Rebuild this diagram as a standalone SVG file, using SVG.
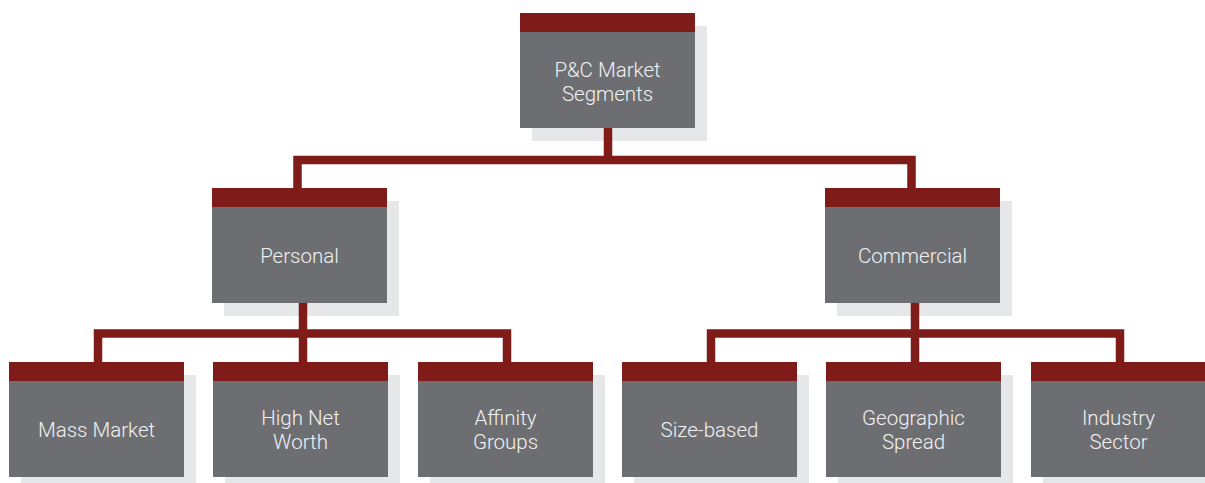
<svg xmlns="http://www.w3.org/2000/svg" width="1205" height="483" viewBox="0 0 1205 483">
  <defs>
    <style>
      .shadow { fill: #e6e7e8; }
      .head { fill: #7f1b18; }
      .body { fill: #6d6e72; }
      .label { font-family: Roboto, "Liberation Sans", sans-serif; font-weight: 300; font-size: 20.5px; fill: #f1f1f1; text-anchor: middle; }
      .link { fill: none; stroke: #7f1b18; stroke-width: 8.5; stroke-linejoin: miter; stroke-linecap: butt; }
    </style>
  </defs>
  <rect width="1205" height="483" fill="#ffffff"/>

  <!-- drop shadows go first so the connectors sit over them -->
  <g id="node-shadows">
    <rect class="shadow" x="532" y="26" width="175" height="115"/>
    <rect class="shadow" x="224" y="201" width="175" height="115"/>
    <rect class="shadow" x="837" y="201" width="175" height="115"/>
    <rect class="shadow" x="21" y="375" width="175" height="115"/>
    <rect class="shadow" x="225" y="375" width="175" height="115"/>
    <rect class="shadow" x="430" y="375" width="175" height="115"/>
    <rect class="shadow" x="634" y="375" width="175" height="115"/>
    <rect class="shadow" x="838" y="375" width="175" height="115"/>
    <rect class="shadow" x="1043" y="375" width="175" height="115"/>
  </g>

  <g id="connectors">
    <path class="link" d="M608,128 V160"/>
    <path class="link" d="M297.5,190 V160 H911.5 V190"/>
    <path class="link" d="M303,303 V333.5"/>
    <path class="link" d="M98,364 V333.5 H507 V364 M303,333.5 V364"/>
    <path class="link" d="M915,303 V333.5"/>
    <path class="link" d="M711,364 V333.5 H1120 V364 M915,333.5 V364"/>
  </g>

  <g id="node-pc-market-segments">
    <rect class="body" x="520" y="32" width="175" height="96"/>
    <rect class="head" x="520" y="13" width="175" height="19"/>
    <text class="label" x="607.5" y="77">P&amp;C Market</text>
    <text class="label" x="607.5" y="101">Segments</text>
  </g>

  <g id="node-personal">
    <rect class="body" x="212" y="207" width="175" height="96"/>
    <rect class="head" x="212" y="188" width="175" height="19"/>
    <text class="label" x="299.5" y="263">Personal</text>
  </g>

  <g id="node-commercial">
    <rect class="body" x="825" y="207" width="175" height="96"/>
    <rect class="head" x="825" y="188" width="175" height="19"/>
    <text class="label" x="912.5" y="263">Commercial</text>
  </g>

  <g id="node-mass-market">
    <rect class="body" x="9" y="381" width="175" height="96"/>
    <rect class="head" x="9" y="362" width="175" height="19"/>
    <text class="label" x="96.5" y="437">Mass Market</text>
  </g>

  <g id="node-high-net-worth">
    <rect class="body" x="213" y="381" width="175" height="96"/>
    <rect class="head" x="213" y="362" width="175" height="19"/>
    <text class="label" x="300.5" y="425">High Net</text>
    <text class="label" x="300.5" y="449">Worth</text>
  </g>

  <g id="node-affinity-groups">
    <rect class="body" x="418" y="381" width="175" height="96"/>
    <rect class="head" x="418" y="362" width="175" height="19"/>
    <text class="label" x="505.5" y="425">Affinity</text>
    <text class="label" x="505.5" y="449">Groups</text>
  </g>

  <g id="node-size-based">
    <rect class="body" x="622" y="381" width="175" height="96"/>
    <rect class="head" x="622" y="362" width="175" height="19"/>
    <text class="label" x="709.5" y="437">Size-based</text>
  </g>

  <g id="node-geographic-spread">
    <rect class="body" x="826" y="381" width="175" height="96"/>
    <rect class="head" x="826" y="362" width="175" height="19"/>
    <text class="label" x="913.5" y="425">Geographic</text>
    <text class="label" x="913.5" y="449">Spread</text>
  </g>

  <g id="node-industry-sector">
    <rect class="body" x="1031" y="381" width="175" height="96"/>
    <rect class="head" x="1031" y="362" width="175" height="19"/>
    <text class="label" x="1118.5" y="425">Industry</text>
    <text class="label" x="1118.5" y="449">Sector</text>
  </g>
</svg>
